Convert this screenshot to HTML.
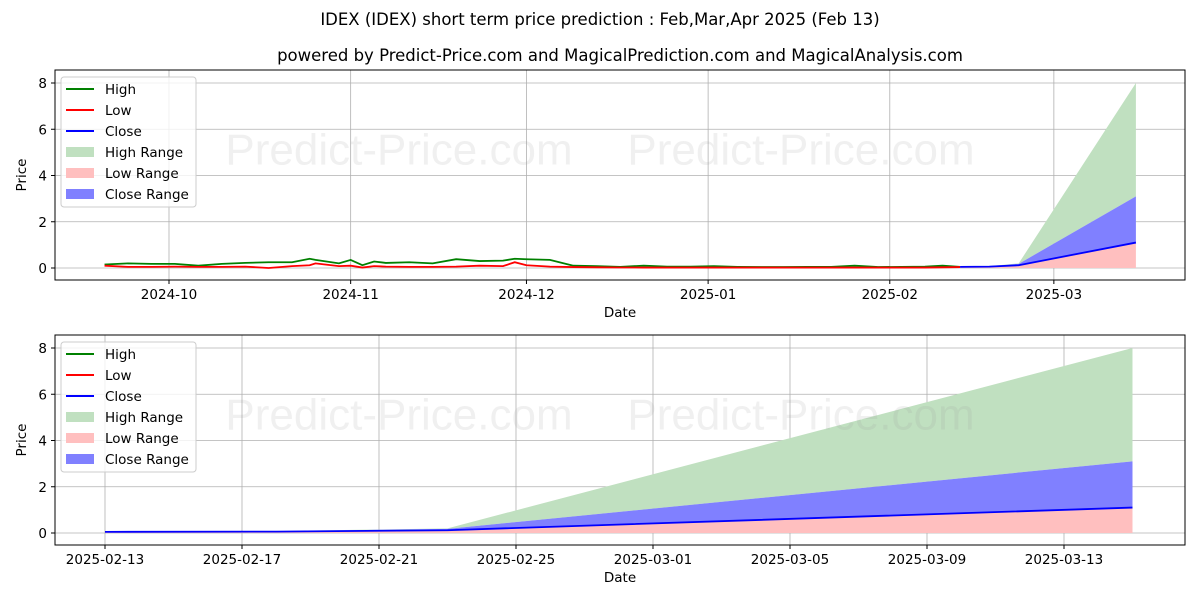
<!DOCTYPE html>
<html><head><meta charset="utf-8"><style>
html,body{margin:0;padding:0;background:#fff;}
svg{display:block;font-family:"DejaVu Sans","Liberation Sans",sans-serif;}
</style></head><body>
<svg id="chart" width="1200" height="600" viewBox="0 0 1200 600">
<text x="600" y="25" font-size="16.5" text-anchor="middle">IDEX (IDEX) short term price prediction : Feb,Mar,Apr 2025 (Feb 13)</text>
<text x="620" y="61" font-size="16.5" text-anchor="middle">powered by Predict-Price.com and MagicalPrediction.com and MagicalAnalysis.com</text>
<g id="top"></g>
<g id="bot"></g>
</svg>
<script>
// historical data: day offsets from 2024-09-20
const histDays = [0,4,8,12,16,20,24,28,32,35,36,40,42,44,46,48,52,56,60,64,68,70,72,76,80,84,88,92,96,100,104,108,112,116,120,124,128,132,136,140,143,146];
const histHigh = [0.15,0.2,0.18,0.18,0.1,0.18,0.22,0.25,0.25,0.4,0.35,0.2,0.35,0.12,0.28,0.22,0.25,0.2,0.38,0.3,0.32,0.4,0.38,0.35,0.1,0.08,0.05,0.1,0.06,0.06,0.08,0.05,0.04,0.04,0.05,0.05,0.1,0.04,0.05,0.06,0.1,0.05];
const histLow = [0.1,0.05,0.05,0.06,0.05,0.05,0.06,0.0,0.08,0.12,0.2,0.08,0.1,0.02,0.08,0.06,0.05,0.05,0.06,0.1,0.08,0.25,0.12,0.06,0.04,0.03,0.02,0.02,0.02,0.02,0.02,0.02,0.02,0.02,0.02,0.02,0.02,0.02,0.02,0.02,0.03,0.04];
// prediction data: day offsets from 2025-02-13
const predDays = [0,5,10,30];
const predClose = [0.05,0.06,0.12,1.1];
const predHighTop = [0.05,0.08,0.2,8.0];
const predCloseTop = [0.05,0.07,0.18,3.1];
const predLowTop = [0.05,0.06,0.12,1.1];
const yTicks = [0,2,4,6,8];
const topXTickLabels = ["2024-10","2024-11","2024-12","2025-01","2025-02","2025-03"];
const topXTickDays = [11,42,72,103,134,162];
const botXTickLabels = ["2025-02-13","2025-02-17","2025-02-21","2025-02-25","2025-03-01","2025-03-05","2025-03-09","2025-03-13"];
const botXTickDays = [0,4,8,12,16,20,24,28];

const NS="http://www.w3.org/2000/svg";
function mk(parent,tag,attrs,name){const e=document.createElementNS(NS,tag);for(const k in attrs)e.setAttribute(k,attrs[k]);


parent.appendChild(e);return e;}

function panel(g,top,bottom,xs,ticksD,ticksL,prefix,predOffset,showHist){
  const L=55,R=1185;
  const ys=v=>bottom-12-(v/8)*(bottom-12-(top+13));
  yTicks.forEach(t=>{mk(g,'line',{x1:L,x2:R,y1:ys(t),y2:ys(t),stroke:'#b0b0b0','stroke-width':0.8},prefix+'y-grid');
    mk(g,'line',{x1:L-4,x2:L,y1:ys(t),y2:ys(t),stroke:'#000'},prefix+'y-tick');
    const tx=mk(g,'text',{x:L-8,y:ys(t)+5,'font-size':13.5,'text-anchor':'end'},prefix+'y-tick-label');tx.textContent=t;});
  ticksD.forEach((d,i)=>{const x=xs(d);mk(g,'line',{x1:x,x2:x,y1:top,y2:bottom,stroke:'#b0b0b0','stroke-width':0.8},prefix+'x-grid');
    mk(g,'line',{x1:x,x2:x,y1:bottom,y2:bottom+4,stroke:'#000'},prefix+'x-tick');
    const tx=mk(g,'text',{x:x,y:bottom+19,'font-size':13.5,'text-anchor':'middle'},prefix+'x-tick-label');tx.textContent=ticksL[i];});
  const px=d=>xs(d+predOffset);
  function band(lowArr,topArr,col,name){let p='';
    predDays.forEach((d,i)=>p+=(i?' L':'M')+px(d)+','+ys(topArr[i]));
    for(let i=predDays.length-1;i>=0;i--)p+=' L'+px(predDays[i])+','+ys(lowArr?lowArr[i]:0);
    p+='Z';mk(g,'path',{d:p,fill:col},name);}
  band(predCloseTop,predHighTop,'#c0e0c0',prefix+'high-range');
  band(predLowTop,predCloseTop,'#8080ff',prefix+'close-range');
  band(null,predLowTop,'#ffbfbf',prefix+'low-range');
  function line(ds,vs,off,col,name){mk(g,'polyline',{points:ds.map((d,i)=>xs(d+off)+','+ys(vs[i])).join(' '),fill:'none',stroke:col,'stroke-width':1.8},name);}
  if(showHist){line(histDays,histHigh,0,'#008000',prefix+'high-line');line(histDays,histLow,0,'#ff0000',prefix+'low-line');}
  line(predDays,predClose,predOffset,'#0000ff',prefix+'close-line');
  const wy=top+(bottom-top)*0.45;
  const w1=mk(g,'text',{x:399,y:wy,'font-size':44,fill:'#999','fill-opacity':0.15,'text-anchor':'middle','font-family':'Liberation Sans, sans-serif'},prefix+'watermark');w1.textContent='Predict-Price.com';
  const w2=mk(g,'text',{x:801,y:wy,'font-size':44,fill:'#999','fill-opacity':0.15,'text-anchor':'middle','font-family':'Liberation Sans, sans-serif'},prefix+'watermark');w2.textContent='Predict-Price.com';
  mk(g,'rect',{x:L,y:top,width:R-L,height:bottom-top,fill:'none',stroke:'#000','stroke-width':1},prefix+'axes-frame');
  const xl=mk(g,'text',{x:(L+R)/2,y:bottom+37,'font-size':13.5,'text-anchor':'middle'},prefix+'x-axis-title');xl.textContent='Date';
  const yl=mk(g,'text',{x:0,y:0,'font-size':13.5,'text-anchor':'middle',transform:'translate(26,'+(top+bottom)/2+') rotate(-90)'},prefix+'y-axis-title');yl.textContent='Price';
  const lg=mk(g,'g',{},prefix+'legend');
  mk(lg,'rect',{x:61,y:top+7,width:135,height:130,rx:3,fill:'#fff','fill-opacity':0.8,stroke:'#ccc'},prefix+'legend-box');
  const items=[['High','line','#008000'],['Low','line','#ff0000'],['Close','line','#0000ff'],['High Range','rect','#c0e0c0'],['Low Range','rect','#ffbfbf'],['Close Range','rect','#8080ff']];
  items.forEach((it,i)=>{const y=top+19+i*21;
    if(it[1]==='line')mk(lg,'line',{x1:66,x2:94,y1:y,y2:y,stroke:it[2],'stroke-width':2},prefix+'legend-swatch');
    else mk(lg,'rect',{x:66,y:y-5,width:28,height:10,fill:it[2]},prefix+'legend-swatch');
    const t=mk(lg,'text',{x:105,y:y+5,'font-size':13.5},prefix+'legend-entry');t.textContent=it[0];});
}
const topXs=d=>169+(d-11)*5.86;
panel(document.getElementById('top'),70,280,topXs,topXTickDays,topXTickLabels,'top-',146,true);
const botXs=d=>105+d*34.25;
panel(document.getElementById('bot'),335,545,botXs,botXTickDays,botXTickLabels,'bottom-',0,false);
</script>
</body></html>
